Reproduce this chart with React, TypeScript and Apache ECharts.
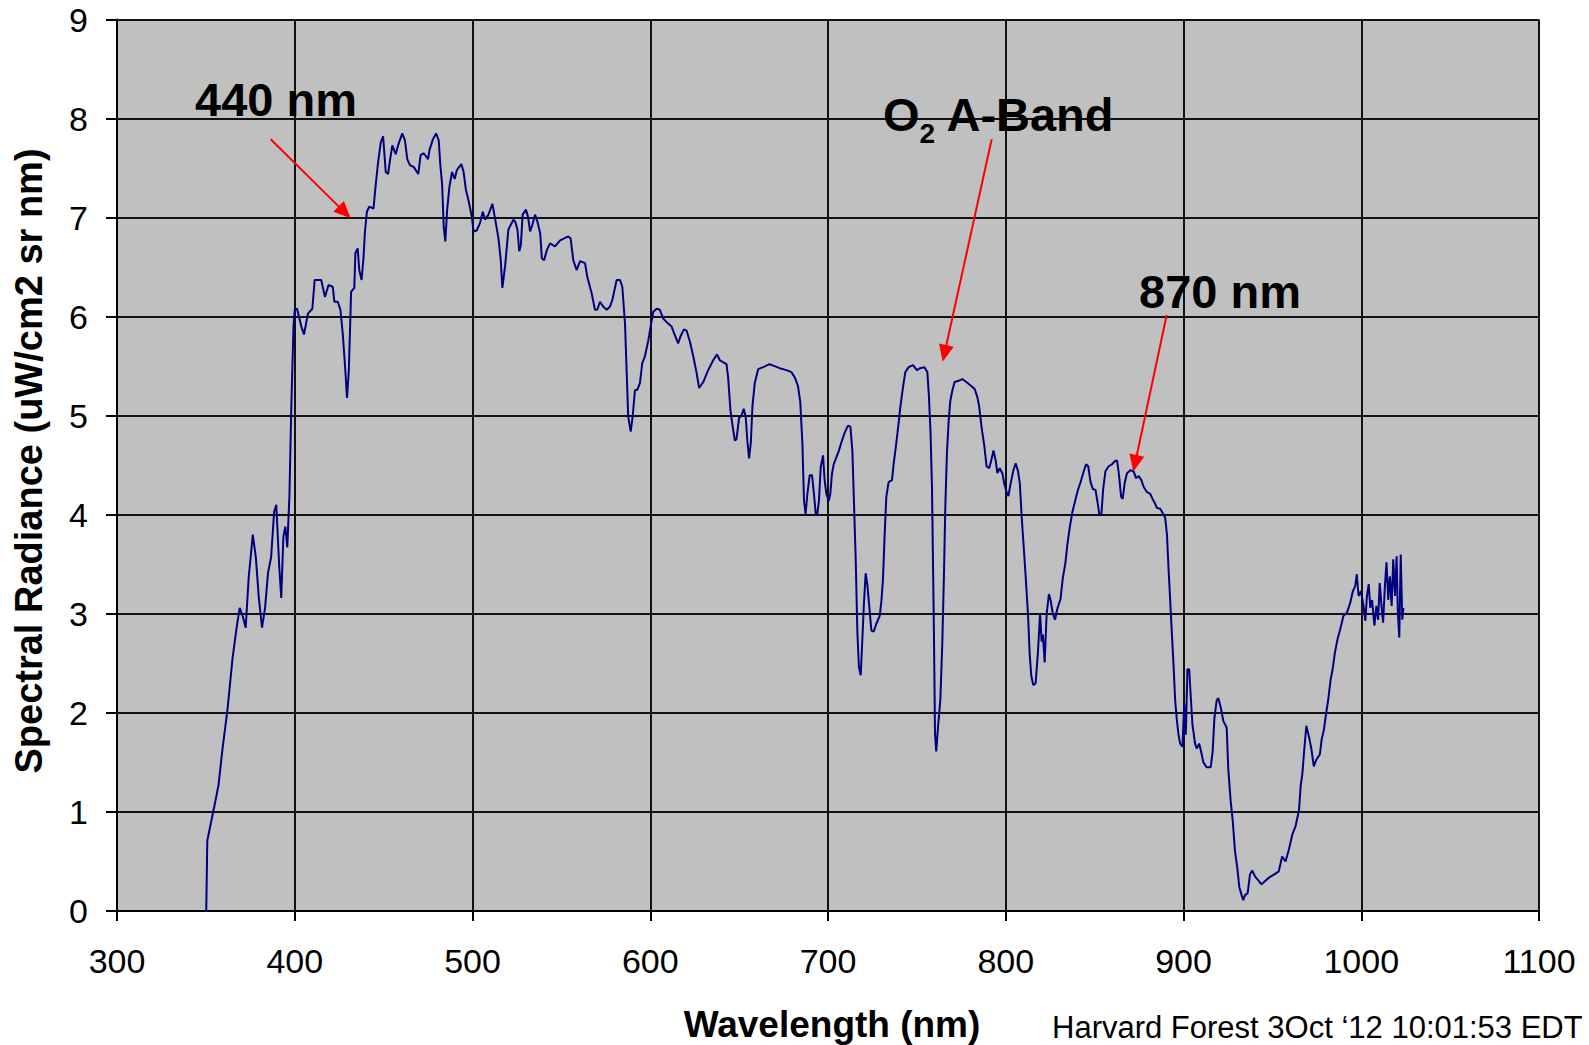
import React, { useEffect, useRef } from "react";
import * as echarts from "echarts";

// Wavelength (nm) and spectral radiance (uW/cm2 sr nm)
const wavelengths = [
  349.0, 350.2, 350.8, 352.5, 354.8, 357.1, 359.3, 362.2, 365.0, 367.3, 369.0, 370.7, 372.4, 374.1, 376.4, 378.1, 379.8,
  381.6, 383.3, 385.0, 386.7, 388.4, 389.6, 391.3, 392.4, 393.6, 394.7, 395.8, 397.0, 398.1, 399.3, 400.0, 401.3, 403.7,
  405.2, 407.4, 409.9, 411.2, 414.9, 417.0, 419.0, 421.4, 422.3, 424.2, 425.7, 427.0, 428.3, 429.4, 430.4, 431.1, 431.7,
  433.5, 434.1, 435.4, 436.3, 437.6, 438.7, 439.5, 440.6, 441.9, 444.3, 445.6, 446.9, 448.4, 449.7, 451.2, 452.5, 453.6,
  454.9, 456.8, 458.3, 460.5, 462.0, 463.3, 464.8, 467.0, 469.5, 470.8, 472.6, 475.0, 475.8, 477.7, 479.5, 481.0, 481.9,
  482.9, 483.8, 484.7, 485.7, 487.0, 488.5, 490.0, 491.2, 493.7, 495.0, 496.3, 497.8, 499.6, 500.6, 502.4, 504.3, 505.8,
  507.1, 509.0, 511.2, 512.7, 514.6, 515.9, 516.8, 518.4, 520.2, 523.0, 524.0, 525.3, 526.3, 527.2, 528.2, 530.1, 531.2,
  532.4, 533.7, 535.2, 536.5, 538.1, 539.0, 540.3, 541.8, 543.6, 546.4, 549.3, 553.9, 555.2, 556.7, 558.6, 560.5, 563.3,
  564.6, 567.0, 568.9, 570.2, 571.7, 573.6, 575.5, 577.3, 578.7, 581.1, 583.0, 584.3, 585.8, 586.7, 587.6, 589.0, 590.1,
  591.4, 592.7, 594.2, 595.5, 597.0, 598.9, 600.2, 601.7, 603.6, 605.4, 607.3, 610.1, 612.0, 613.9, 615.7, 617.0, 618.9,
  620.4, 622.3, 624.2, 626.0, 627.5, 629.8, 632.6, 635.4, 637.6, 639.1, 642.9, 643.8, 645.1, 646.3, 647.6, 648.5, 650.0,
  651.3, 652.6, 653.7, 654.7, 655.6, 656.6, 657.5, 658.8, 660.7, 663.5, 667.2, 670.0, 672.8, 676.6, 679.4, 681.5, 683.1,
  684.4, 685.6, 686.5, 687.4, 688.4, 689.7, 691.0, 692.1, 693.1, 694.0, 694.9, 695.9, 697.2, 698.1, 699.1, 700.4, 701.3,
  702.2, 703.2, 704.7, 706.2, 707.5, 709.4, 711.2, 712.6, 713.7, 714.4, 715.6, 716.5, 717.4, 718.4, 719.3, 720.2, 721.2,
  722.1, 723.1, 724.4, 725.7, 727.2, 729.1, 730.0, 730.9, 731.9, 732.8, 734.1, 736.0, 736.9, 738.4, 739.7, 740.7, 742.2,
  743.5, 745.4, 747.8, 750.0, 751.9, 754.3, 755.9, 756.8, 757.7, 758.5, 759.1, 759.6, 760.2, 760.9, 761.9, 763.2, 764.3,
  765.2, 766.0, 766.9, 767.9, 768.8, 769.9, 771.2, 773.1, 775.6, 777.8, 780.6, 782.5, 784.0, 785.0, 786.5, 787.9, 789.2,
  790.7, 792.0, 793.1, 794.4, 795.3, 796.6, 798.1, 799.1, 800.4, 801.5, 802.8, 804.3, 805.6, 806.9, 807.9, 809.0, 809.9,
  811.2, 812.5, 813.5, 814.4, 815.5, 816.8, 818.1, 819.3, 820.2, 820.9, 821.9, 823.0, 824.3, 825.2, 826.5, 827.7, 829.0,
  830.8, 832.1, 833.6, 834.6, 835.9, 837.4, 839.3, 840.6, 842.1, 843.9, 845.2, 846.4, 847.7, 849.0, 850.5, 851.8, 852.7,
  853.8, 854.8, 856.1, 857.9, 859.8, 861.3, 862.6, 863.6, 864.9, 865.8, 866.9, 868.2, 870.1, 871.9, 873.3, 874.8, 876.3,
  877.6, 879.4, 881.3, 882.6, 884.1, 885.0, 886.9, 888.2, 889.7, 890.7, 891.6, 892.5, 893.5, 894.4, 895.3, 896.3, 897.2,
  898.1, 899.4, 900.4, 901.3, 902.2, 903.2, 904.1, 905.0, 906.5, 907.5, 908.8, 909.9, 911.2, 913.1, 915.3, 916.4, 917.4,
  918.7, 919.6, 920.9, 922.4, 924.3, 925.2, 926.5, 927.7, 929.0, 930.3, 931.4, 932.7, 933.6, 934.6, 936.1, 937.4, 938.7,
  940.2, 942.1, 943.9, 945.8, 948.3, 951.1, 953.6, 955.5, 957.4, 959.3, 961.2, 963.1, 965.0, 965.9, 966.9, 967.8, 969.1,
  970.6, 972.0, 973.3, 974.8, 976.7, 977.7, 979.0, 980.1, 981.4, 982.8, 983.9, 985.2, 986.6, 988.1, 990.0, 991.9, 993.8,
  995.3, 996.6, 997.5, 998.5, 999.8, 1001.3, 1002.3, 1003.2, 1004.2, 1005.1, 1006.1, 1007.4, 1008.5, 1009.5, 1010.4,
  1011.4, 1012.3, 1013.3, 1014.2, 1015.2, 1016.1, 1017.1, 1018.0, 1019.0, 1019.9, 1020.6, 1021.4, 1022.2, 1023.1, 1023.7,
];

const radiance = [
  0, 0, 0.71, 0.86, 1.06, 1.27, 1.63, 2.04, 2.55, 2.86, 3.06, 2.98, 2.86, 3.37, 3.8, 3.57, 3.16,
  2.86, 3.06, 3.42, 3.57, 4.03, 4.1, 3.47, 3.16, 3.78, 3.88, 3.67, 4.19, 5.11, 5.9, 6.07, 6.08, 5.9,
  5.82, 6.03, 6.08, 6.37, 6.37, 6.2, 6.32, 6.3, 6.15, 6.15, 6.07, 5.83, 5.5, 5.18, 5.45, 5.87, 6.25,
  6.29, 6.64, 6.69, 6.47, 6.37, 6.6, 6.86, 7.06, 7.11, 7.09, 7.34, 7.56, 7.76, 7.82, 7.46, 7.44, 7.58,
  7.73, 7.64, 7.74, 7.85, 7.78, 7.59, 7.53, 7.51, 7.44, 7.63, 7.65, 7.59, 7.68, 7.79, 7.85, 7.78, 7.53,
  7.34, 6.91, 6.76, 7.07, 7.31, 7.46, 7.39, 7.48, 7.54, 7.46, 7.28, 7.17, 7.01, 6.86, 6.87, 6.95, 7.06,
  6.98, 7.03, 7.14, 6.99, 6.79, 6.57, 6.29, 6.52, 6.88, 6.98, 6.96, 6.88, 6.66, 6.72, 7.03, 7.08, 7.01,
  6.86, 6.93, 7.03, 6.96, 6.84, 6.59, 6.57, 6.67, 6.74, 6.71, 6.77, 6.81, 6.79, 6.57, 6.47, 6.56, 6.54,
  6.4, 6.24, 6.07, 6.07, 6.15, 6.1, 6.07, 6.1, 6.17, 6.37, 6.37, 6.3, 5.93, 5.46, 4.99, 4.84, 4.99,
  5.26, 5.26, 5.33, 5.53, 5.6, 5.76, 5.9, 6.05, 6.08, 6.07, 5.98, 5.93, 5.9, 5.81, 5.73, 5.8, 5.87,
  5.86, 5.75, 5.6, 5.44, 5.28, 5.34, 5.46, 5.56, 5.62, 5.56, 5.52, 5.39, 5.06, 4.9, 4.75, 4.76, 4.98,
  5.0, 5.07, 4.99, 4.73, 4.57, 4.73, 5.1, 5.33, 5.47, 5.49, 5.52, 5.5, 5.48, 5.46, 5.44, 5.38, 5.3,
  5.14, 4.72, 4.14, 4.01, 4.21, 4.4, 4.4, 4.21, 4.01, 4.01, 4.14, 4.48, 4.6, 4.35, 4.21, 4.14, 4.21,
  4.41, 4.51, 4.58, 4.65, 4.73, 4.83, 4.9, 4.89, 4.65, 4.25, 3.54, 2.83, 2.46, 2.38, 2.73, 3.1, 3.41,
  3.3, 3.1, 2.83, 2.82, 2.9, 2.98, 3.12, 3.34, 3.81, 4.18, 4.33, 4.35, 4.51, 4.72, 4.92, 5.09, 5.29,
  5.44, 5.49, 5.51, 5.46, 5.48, 5.49, 5.44, 5.19, 4.82, 4.28, 3.47, 2.8, 1.79, 1.61, 1.86, 2.13, 2.7,
  3.37, 4.08, 4.62, 4.95, 5.15, 5.25, 5.34, 5.35, 5.37, 5.34, 5.3, 5.27, 5.19, 5.1, 4.87, 4.7, 4.49,
  4.47, 4.56, 4.65, 4.54, 4.42, 4.47, 4.42, 4.32, 4.23, 4.19, 4.32, 4.45, 4.52, 4.44, 4.32, 3.97, 3.73,
  3.38, 3.0, 2.58, 2.37, 2.28, 2.3, 2.61, 3.0, 2.72, 2.79, 2.51, 3.0, 3.2, 3.14, 3.0, 2.94, 3.05,
  3.15, 3.36, 3.52, 3.69, 3.86, 4.02, 4.16, 4.25, 4.33, 4.44, 4.51, 4.49, 4.33, 4.26, 4.25, 4.11, 4.0,
  4.0, 4.26, 4.44, 4.49, 4.51, 4.54, 4.55, 4.42, 4.18, 4.16, 4.32, 4.42, 4.45, 4.44, 4.37, 4.39, 4.35,
  4.28, 4.23, 4.21, 4.16, 4.11, 4.07, 4.06, 4.02, 3.97, 3.8, 3.45, 3.14, 2.79, 2.48, 2.13, 1.92, 1.78,
  1.69, 1.66, 2.09, 1.78, 2.44, 2.44, 2.16, 1.89, 1.69, 1.64, 1.69, 1.61, 1.5, 1.45, 1.45, 1.61, 1.95,
  2.13, 2.15, 2.06, 1.92, 1.85, 1.43, 1.12, 0.91, 0.6, 0.43, 0.24, 0.16, 0.11, 0.16, 0.18, 0.37, 0.41,
  0.35, 0.31, 0.27, 0.3, 0.34, 0.37, 0.4, 0.55, 0.5, 0.62, 0.77, 0.86, 1.02, 1.26, 1.39, 1.6, 1.87,
  1.76, 1.63, 1.46, 1.53, 1.58, 1.73, 1.83, 1.98, 2.13, 2.34, 2.44, 2.61, 2.74, 2.84, 2.98, 3.01, 3.11,
  3.23, 3.28, 3.4, 3.18, 3.23, 3.08, 2.93, 3.18, 3.3, 3.06, 3.14, 2.88, 3.08, 2.94, 3.31,
  3.08, 2.91, 3.28, 3.52, 3.14, 3.38, 3.08, 3.55, 3.18, 3.58, 3.01, 2.76, 3.6, 2.94, 3.06,
];

const xMin = 300;
const xMax = 1100;
const xStep = 100;
const yMin = 0;
const yMax = 9;
const yStep = 1;

const xTitle = "Wavelength (nm)";
const yTitle = "Spectral Radiance (uW/cm2 sr nm)";
const footer = "Harvard Forest 3Oct \u201812 10:01:53 EDT";
const annotation440 = "440 nm";
const annotation870 = "870 nm";

const FONT = "'Liberation Sans', Arial, Helvetica, sans-serif";

function arrowHead(sx: number, sy: number, tx: number, ty: number, len = 17, half = 7.5) {
  const dx = tx - sx;
  const dy = ty - sy;
  const d = Math.sqrt(dx * dx + dy * dy);
  const ux = dx / d;
  const uy = dy / d;
  const bx = tx - ux * len;
  const by = ty - uy * len;
  return [
    [tx, ty],
    [bx - uy * half, by + ux * half],
    [bx + uy * half, by - ux * half],
  ];
}

function arrow(sx: number, sy: number, tx: number, ty: number) {
  const dx = tx - sx;
  const dy = ty - sy;
  const d = Math.sqrt(dx * dx + dy * dy);
  const ex = tx - (dx / d) * 12;
  const ey = ty - (dy / d) * 12;
  return [
    {
      type: "line",
      shape: { x1: sx, y1: sy, x2: ex, y2: ey },
      style: { stroke: "#ff0000", lineWidth: 2 },
      z: 100,
    },
    {
      type: "polygon",
      shape: { points: arrowHead(sx, sy, tx, ty) },
      style: { fill: "#ff0000" },
      z: 100,
    },
  ];
}

export default function App() {
  const ref = useRef<HTMLDivElement>(null);

  useEffect(() => {
    if (!ref.current) return;
    const chart = echarts.init(ref.current, undefined, { renderer: "svg" });
    const data = wavelengths.map((w, i) => [w, radiance[i]]);

    chart.setOption({
      animation: false,
      backgroundColor: "#ffffff",
      grid: {
        left: 117,
        right: 50,
        top: 19.5,
        bottom: 134,
        show: true,
        backgroundColor: "#c0c0c0",
        borderWidth: 0,
      },
      xAxis: {
        type: "value",
        min: xMin,
        max: xMax,
        interval: xStep,
        axisLine: { show: true, onZero: false, lineStyle: { color: "#000", width: 2 } },
        axisTick: { show: true, length: 10, lineStyle: { color: "#000", width: 2 } },
        axisLabel: {
          color: "#000",
          fontSize: 34,
          fontFamily: FONT,
          margin: 33,
          formatter: (v: number) => String(v),
        },
        splitLine: { show: true, lineStyle: { color: "#111", width: 2 } },
      },
      yAxis: {
        type: "value",
        min: yMin,
        max: yMax,
        interval: yStep,
        axisLine: { show: true, lineStyle: { color: "#000", width: 2 } },
        axisTick: { show: true, length: 11, lineStyle: { color: "#000", width: 2 } },
        axisLabel: {
          color: "#000",
          fontSize: 34,
          fontFamily: FONT,
          margin: 29,
          formatter: (v: number) => String(v),
        },
        splitLine: { show: true, lineStyle: { color: "#111", width: 2 } },
      },
      series: [
        {
          type: "line",
          data,
          showSymbol: false,
          symbol: "none",
          lineStyle: { color: "#000080", width: 2 },
          clip: true,
          z: 5,
        },
      ],
      graphic: [
        {
          type: "text",
          x: 29,
          y: 461,
          rotation: Math.PI / 2,
          style: {
            text: yTitle,
            fontSize: 38,
            fontWeight: "bold",
            fontFamily: FONT,
            fill: "#000",
            align: "center",
            verticalAlign: "middle",
            textAlign: "center",
            textVerticalAlign: "middle",
          },
        },
        {
          type: "text",
          x: 832,
          y: 1024,
          style: {
            text: xTitle,
            fontSize: 37,
            fontWeight: "bold",
            fontFamily: FONT,
            fill: "#000",
            align: "center",
            verticalAlign: "middle",
            textAlign: "center",
            textVerticalAlign: "middle",
          },
        },
        {
          type: "text",
          x: 1052,
          y: 1027,
          style: {
            text: footer,
            fontSize: 31,
            fontFamily: FONT,
            fill: "#000",
            align: "left",
            verticalAlign: "middle",
            textAlign: "left",
            textVerticalAlign: "middle",
          },
        },
        {
          type: "text",
          x: 195,
          y: 99,
          z: 100,
          style: {
            text: annotation440,
            fontSize: 47,
            fontWeight: "bold",
            fontFamily: FONT,
            fill: "#000",
            align: "left",
            verticalAlign: "middle",
            textAlign: "left",
            textVerticalAlign: "middle",
          },
        },
        {
          type: "text",
          x: 1139,
          y: 291,
          z: 100,
          style: {
            text: annotation870,
            fontSize: 47,
            fontWeight: "bold",
            fontFamily: FONT,
            fill: "#000",
            align: "left",
            verticalAlign: "middle",
            textAlign: "left",
            textVerticalAlign: "middle",
          },
        },
        {
          type: "text",
          x: 883,
          y: 147,
          z: 100,
          style: {
            text: "{a|O}{b|2}{a| A-Band}",
            fontFamily: FONT,
            fill: "#000",
            align: "left",
            verticalAlign: "bottom",
            textAlign: "left",
            textVerticalAlign: "bottom",
            rich: {
              a: {
                fontSize: 47,
                fontWeight: "bold",
                fontFamily: FONT,
                fill: "#000",
                lineHeight: 47,
                padding: [0, 0, 9, 0],
                verticalAlign: "bottom",
              },
              b: {
                fontSize: 28,
                fontWeight: "bold",
                fontFamily: FONT,
                fill: "#000",
                lineHeight: 28,
                verticalAlign: "bottom",
              },
            },
          },
        },
        ...arrow(270.7, 139.3, 350.7, 218.3),
        ...arrow(991.7, 139.3, 942.7, 361.7),
        ...arrow(1166.7, 315, 1133.3, 471.7),
      ],
    });

    return () => {
      chart.dispose();
    };
  }, []);

  return (
    <div
      ref={ref}
      style={{ position: "fixed", left: 0, top: 0, width: 1589, height: 1045, background: "#fff" }}
    />
  );
}
